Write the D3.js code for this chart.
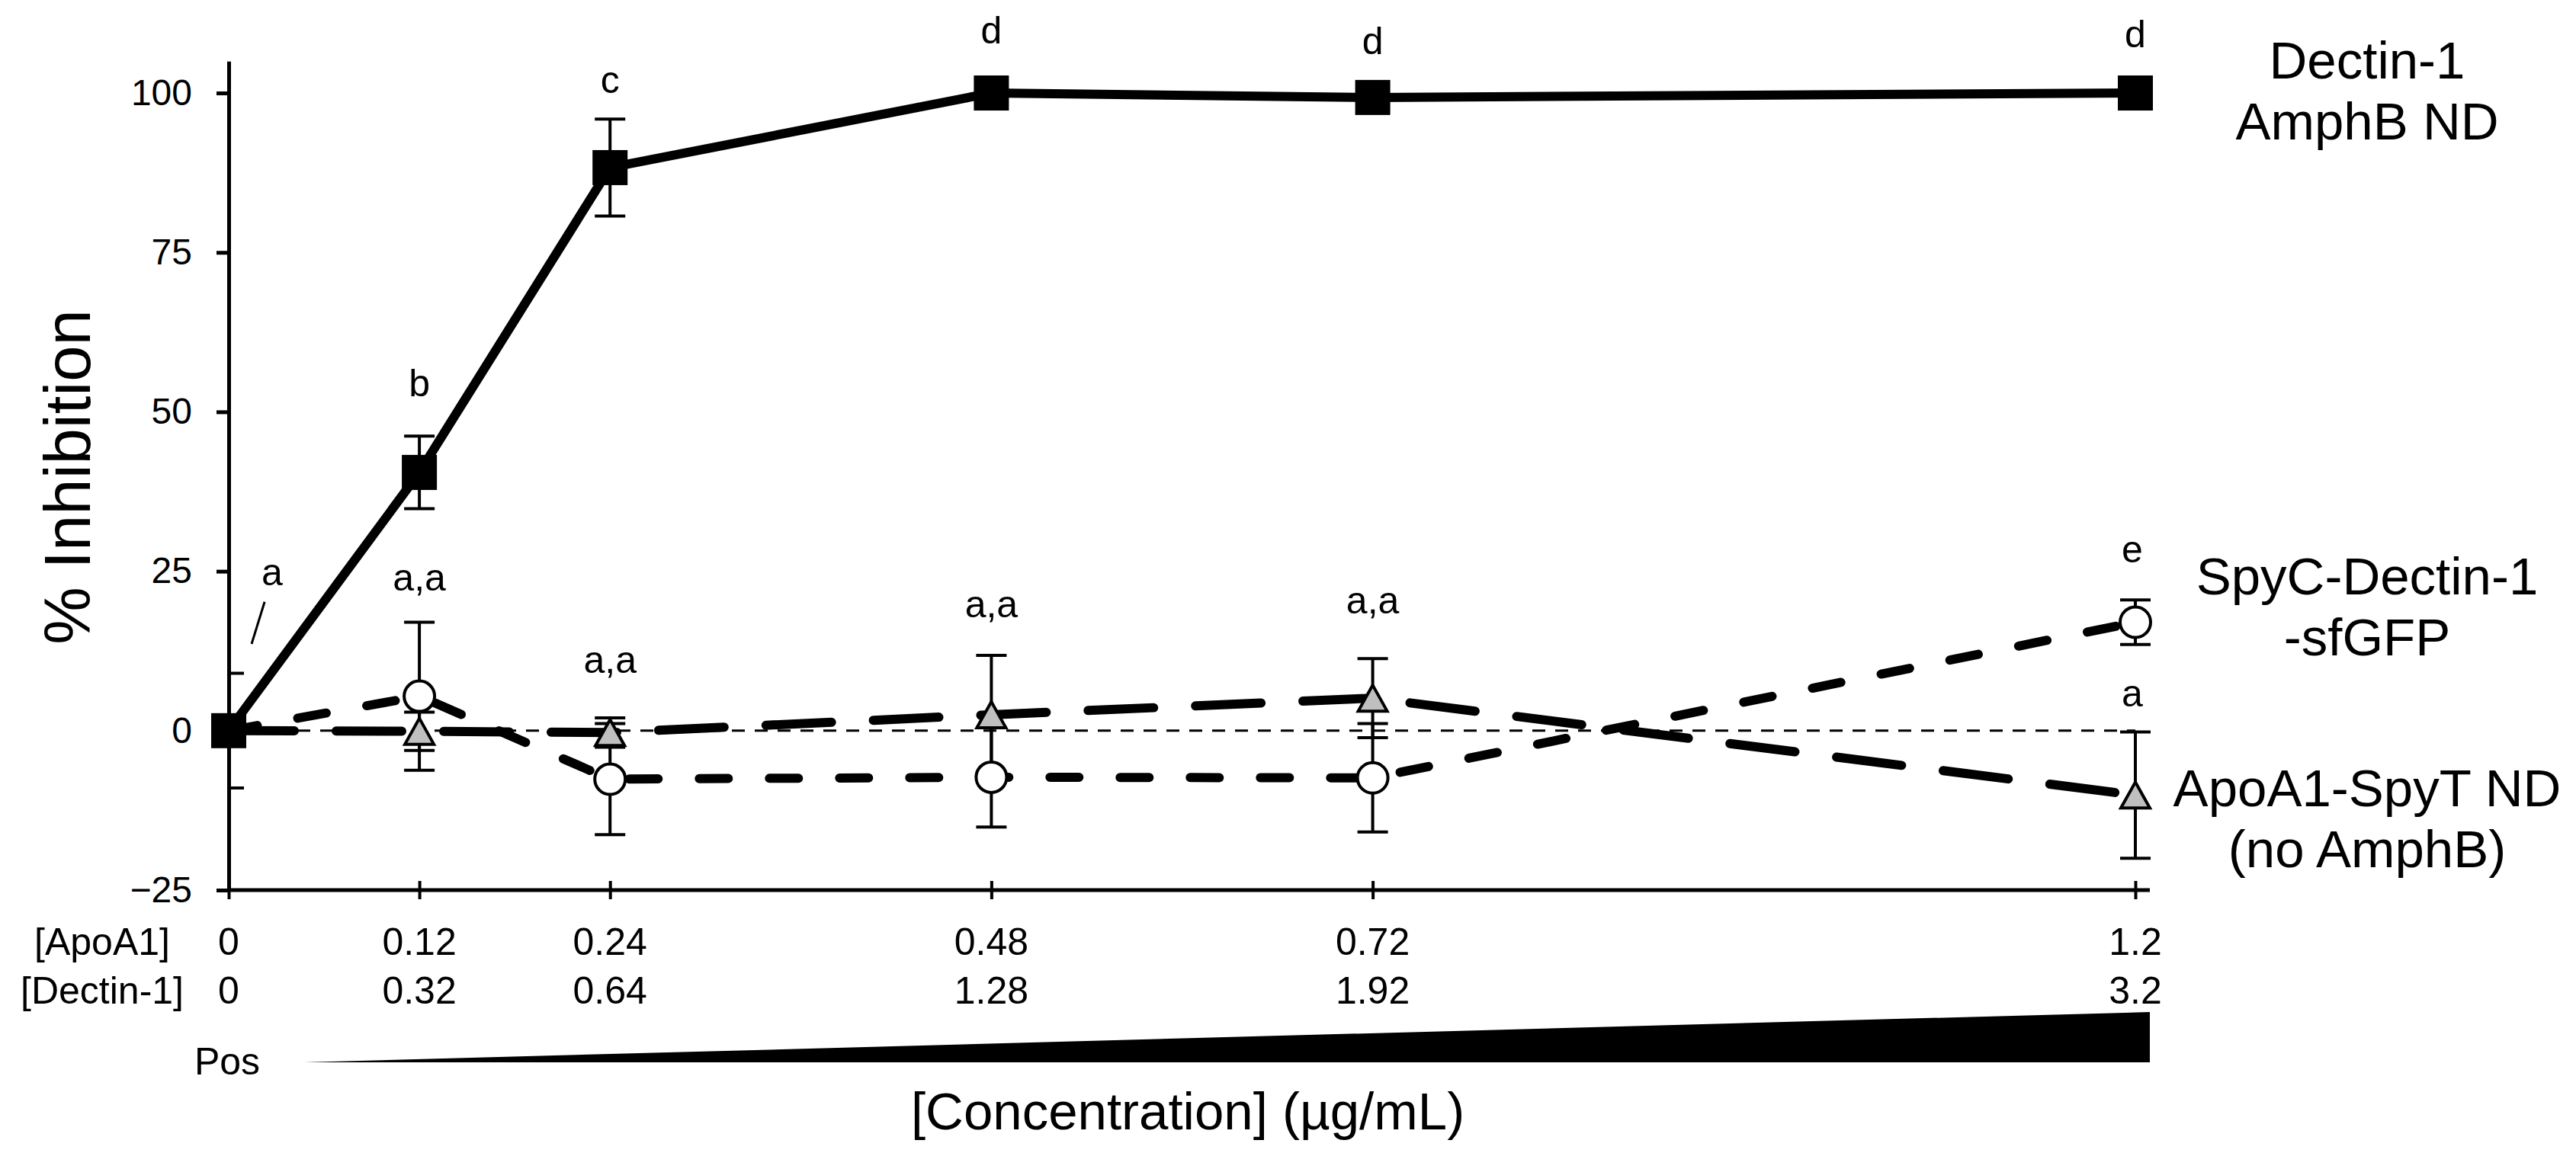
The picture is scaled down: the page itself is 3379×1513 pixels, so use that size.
<!DOCTYPE html>
<html>
<head>
<meta charset="utf-8">
<script src="https://cdn.jsdelivr.net/npm/d3@7"></script>
<style>
  body { margin: 0; background: #fff; }
  svg { display: block; }
  text { font-family: "Liberation Sans", Arial, sans-serif; fill: #000; }
</style>
</head>
<body>
<svg id="chart"></svg>
<script>
// x positions ([ApoA1], ug/mL) and the second label row ([Dectin-1])
const apoA1 = [0, 0.12, 0.24, 0.48, 0.72, 1.2];
const apoA1Labels = ["0", "0.12", "0.24", "0.48", "0.72", "1.2"];
const dectinLabels = ["0", "0.32", "0.64", "1.28", "1.92", "3.2"];

// % inhibition, mean and error
const amphbMean = [0, 40.5, 88.3, 100, 99.3, 100];
const amphbErr  = [9, 5.7, 7.6, 1, 1, 1];
const sfgfpMean = [0, 5.4, -7.6, -7.3, -7.4, 17.0];
const sfgfpErr  = [0, 11.6, 8.7, 7.8, 8.5, 3.5];
const spytMean  = [0, -0.1, -0.3, 2.5, 5.1, -10.1];
const spytErr   = [0, 3, 2.3, 9.3, 6.2, 9.9];

const yTicks = [-25, 0, 25, 50, 75, 100];

// significance letters (x in ApoA1 units, y in % units at baseline)
const sigText = ["a", "b", "a,a", "c", "a,a", "d", "a,a", "d", "a,a", "d", "e", "a"];
const sigX    = [0.0273, 0.12, 0.12, 0.24, 0.24, 0.48, 0.48, 0.72, 0.72, 1.2, 1.198, 1.198];
const sigY    = [22.8, 52.4, 22.0, 100, 9.1, 107.8, 17.8, 106.1, 18.4, 107.2, 26.4, 3.8];

const W = 3379, H = 1513;
const FONT = "Liberation Sans, Arial, sans-serif";

const svg = d3.select("#chart").attr("width", W).attr("height", H);

const x = d3.scaleLinear().domain([0, 1.2]).range([300, 2801]);
const y = d3.scaleLinear().domain([-25, 105]).range([1168, 80.2]);

// clip for error bars (nothing left of the y axis)
svg.append("clipPath").attr("id", "plot-clip")
  .append("rect")
    .attr("x", x(0)).attr("y", 0)
    .attr("width", W - x(0)).attr("height", H);

// zero reference line
svg.append("line")
    .attr("x1", x(0)).attr("x2", x(1.2))
    .attr("y1", y(0)).attr("y2", y(0))
    .attr("stroke", "#000")
    .attr("stroke-width", 3)
    .attr("stroke-dasharray", "17,13");

// Axes
svg.append("g")
    .attr("transform", `translate(${x(0)},0)`)
    .call(d3.axisLeft(y).tickValues(yTicks).tickSize(16).tickPadding(32).tickSizeOuter(0))
    .call(g => {
      g.attr("font-size", 48).attr("font-family", FONT);
      g.select(".domain").attr("stroke-width", 5);
      g.selectAll(".tick line").attr("stroke-width", 5);
    });

svg.append("g")
    .attr("transform", `translate(0,${y(-25)})`)
    .call(d3.axisBottom(x).tickValues(apoA1).tickSize(12).tickFormat("").tickSizeOuter(0))
    .call(g => {
      g.select(".domain").attr("d", `M${x(0)},0H${x(1.2) + 19}`).attr("stroke-width", 5);
      g.selectAll(".tick line").attr("y1", -12).attr("y2", 12).attr("stroke-width", 4);
    });

// x tick label rows
const rows = [
  {name: "[ApoA1]", labels: apoA1Labels, base: 1253},
  {name: "[Dectin-1]", labels: dectinLabels, base: 1317}
];
rows.forEach(r => {
  svg.append("text")
      .attr("x", 134).attr("y", r.base)
      .attr("text-anchor", "middle")
      .attr("font-size", 50)
      .text(r.name);
  svg.selectAll(null)
    .data(r.labels)
    .join("text")
      .attr("x", (d, i) => x(apoA1[i]))
      .attr("y", r.base)
      .attr("text-anchor", "middle")
      .attr("font-size", 50)
      .text(d => d);
});

// Error bars
const errG = svg.append("g").attr("clip-path", "url(#plot-clip)");
function drawErr(mean, err) {
  mean.forEach((m, i) => {
    if (!err[i]) return;
    const cx = x(apoA1[i]), top = y(m + err[i]), bot = y(m - err[i]);
    errG.append("line").attr("x1", cx).attr("x2", cx).attr("y1", top).attr("y2", bot)
        .attr("stroke", "#000").attr("stroke-width", 4);
    [top, bot].forEach(v => {
      errG.append("line").attr("x1", cx - 20).attr("x2", cx + 20).attr("y1", v).attr("y2", v)
          .attr("stroke", "#000").attr("stroke-width", 4);
    });
  });
}
drawErr(spytMean, spytErr);
drawErr(sfgfpMean, sfgfpErr);
drawErr(amphbMean, amphbErr);

// Lines
const line = d3.line().x((d, i) => x(apoA1[i])).y(d => y(d));

svg.append("path").datum(spytMean)
    .attr("d", line).attr("fill", "none")
    .attr("stroke", "#000").attr("stroke-width", 12)
    .attr("stroke-linecap", "round")
    .attr("stroke-dasharray", "86,55");

svg.append("path").datum(sfgfpMean)
    .attr("d", line).attr("fill", "none")
    .attr("stroke", "#000").attr("stroke-width", 12)
    .attr("stroke-linecap", "round")
    .attr("stroke-dasharray", "38,54");

svg.append("path").datum(amphbMean)
    .attr("d", line).attr("fill", "none")
    .attr("stroke", "#000").attr("stroke-width", 12)
    .attr("stroke-linejoin", "round");

// Markers
svg.selectAll(".tri")
  .data(spytMean)
  .join("path")
    .attr("class", "tri")
    .attr("transform", (d, i) => `translate(${x(apoA1[i])},${y(d)})`)
    .attr("d", "M0,-17L19,17L-19,17Z")
    .attr("fill", "#bfbfbf")
    .attr("stroke", "#000")
    .attr("stroke-width", 4);

svg.selectAll(".circ")
  .data(sfgfpMean)
  .join("circle")
    .attr("class", "circ")
    .attr("cx", (d, i) => x(apoA1[i]))
    .attr("cy", d => y(d))
    .attr("r", 20)
    .attr("fill", "#fff")
    .attr("stroke", "#000")
    .attr("stroke-width", 4);

svg.selectAll(".sq")
  .data(amphbMean)
  .join("rect")
    .attr("class", "sq")
    .attr("x", (d, i) => x(apoA1[i]) - 23)
    .attr("y", d => y(d) - 23)
    .attr("width", 46)
    .attr("height", 46)
    .attr("fill", "#000");

// Significance letters
svg.selectAll(".sig")
  .data(sigText)
  .join("text")
    .attr("class", "sig")
    .attr("x", (d, i) => x(sigX[i]))
    .attr("y", (d, i) => y(sigY[i]))
    .attr("text-anchor", "middle")
    .attr("font-size", 50)
    .text(d => d);

// little leader stroke under the first "a"
svg.append("line")
    .attr("x1", x(0.0226)).attr("y1", y(20.2))
    .attr("x2", x(0.0144)).attr("y2", y(13.6))
    .attr("stroke", "#000").attr("stroke-width", 3);

// Series labels on the right
const seriesLabels = [
  {lines: ["Dectin-1", "AmphB ND"], base: 103},
  {lines: ["SpyC-Dectin-1", "-sfGFP"], base: 780},
  {lines: ["ApoA1-SpyT ND", "(no AmphB)"], base: 1058}
];
seriesLabels.forEach(s => {
  s.lines.forEach((t, j) => {
    svg.append("text")
        .attr("x", 3105)
        .attr("y", s.base + j * 80)
        .attr("text-anchor", "middle")
        .attr("font-size", 69)
        .text(t);
  });
});

// Y axis title
svg.append("text")
    .attr("transform", `translate(118,${626}) rotate(-90)`)
    .attr("text-anchor", "middle")
    .attr("font-size", 85)
    .text("% Inhibition");

// Concentration wedge
svg.append("polygon")
    .attr("points", [
      [x(0) + 99, 1394],
      [x(1.2) + 19, 1328],
      [x(1.2) + 19, 1394]
    ].map(p => p.join(",")).join(" "))
    .attr("fill", "#000");

svg.append("text")
    .attr("x", 298).attr("y", 1410)
    .attr("text-anchor", "middle")
    .attr("font-size", 50)
    .text("Pos");

svg.append("text")
    .attr("x", 1558).attr("y", 1482)
    .attr("text-anchor", "middle")
    .attr("font-size", 69)
    .text("[Concentration] (µg/mL)");
</script>
</body>
</html>
